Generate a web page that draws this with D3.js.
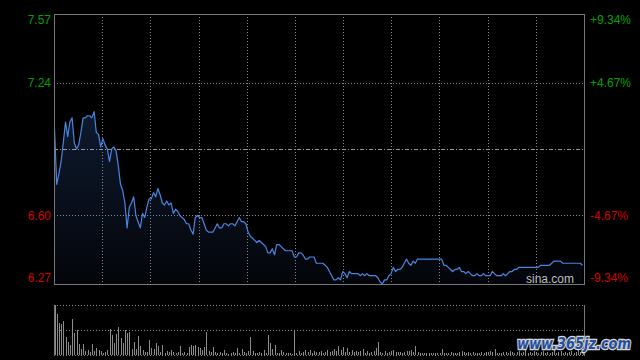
<!DOCTYPE html>
<html>
<head>
<meta charset="utf-8">
<script src="https://cdn.jsdelivr.net/npm/d3@7"></script>
<style>
  html, body { margin: 0; padding: 0; background: #000; }
  svg { display: block; }
</style>
</head>
<body>
<svg id="chart" width="640" height="360"></svg>
<script>
// ---- data ----
const prevClose = 6.92;
const priceTicks = [7.57, 7.24, 6.60, 6.27];
const pctTicks = ["+9.34%", "+4.67%", "-4.67%", "-9.34%"];
const prices = [
7.02,6.75,6.80,6.86,6.95,7.05,6.98,7.05,7.07,6.95,
6.92,6.94,7.00,7.07,7.07,7.08,7.08,7.07,7.10,7.00,
6.99,6.93,6.97,6.94,6.92,6.86,6.92,6.93,6.91,6.84,
6.75,6.72,6.66,6.54,6.64,6.66,6.69,6.60,6.57,6.54,
6.61,6.59,6.64,6.68,6.68,6.71,6.69,6.73,6.70,6.66,
6.65,6.67,6.65,6.66,6.61,6.63,6.62,6.60,6.59,6.58,
6.56,6.56,6.53,6.51,6.59,6.60,6.59,6.59,6.56,6.53,
6.52,6.52,6.52,6.54,6.56,6.54,6.54,6.56,6.56,6.55,
6.56,6.56,6.55,6.57,6.59,6.57,6.57,6.56,6.52,6.50,
6.49,6.48,6.47,6.48,6.47,6.46,6.45,6.42,6.42,6.44,
6.41,6.46,6.46,6.45,6.44,6.43,6.43,6.43,6.43,6.40,
6.40,6.42,6.42,6.41,6.39,6.39,6.40,6.40,6.40,6.37,
6.37,6.37,6.37,6.36,6.35,6.33,6.31,6.29,6.29,6.30,
6.29,6.33,6.32,6.30,6.33,6.32,6.32,6.32,6.32,6.31,
6.32,6.31,6.32,6.31,6.31,6.31,6.31,6.30,6.28,6.27,
6.29,6.29,6.31,6.32,6.35,6.33,6.34,6.34,6.35,6.37,
6.39,6.37,6.36,6.38,6.37,6.39,6.39,6.39,6.39,6.39,
6.39,6.39,6.39,6.39,6.39,6.39,6.39,6.36,6.36,6.35,
6.34,6.33,6.34,6.34,6.35,6.33,6.33,6.32,6.33,6.32,
6.31,6.31,6.32,6.31,6.31,6.32,6.31,6.31,6.31,6.33,
6.32,6.31,6.31,6.31,6.32,6.31,6.32,6.33,6.33,6.34,
6.34,6.35,6.35,6.35,6.35,6.35,6.35,6.35,6.35,6.35,
6.35,6.36,6.36,6.36,6.36,6.36,6.37,6.38,6.38,6.38,
6.38,6.37,6.37,6.37,6.37,6.37,6.37,6.37,6.37,6.37,
6.36
];
const volumes = [
50,41,32,31,34,18,13,10,36,22,
25,11,6,11,4,5,3,11,4,7,
5,4,2,3,5,26,20,12,21,28,
17,12,25,22,23,6,13,6,19,9,
5,3,3,15,7,6,12,9,3,10,
2,4,3,5,3,2,3,9,2,3,
2,8,10,9,10,8,7,5,8,23,
4,3,8,3,2,3,2,5,2,1,
2,3,2,7,2,6,3,2,4,18,
4,2,2,3,2,5,2,20,12,6,
10,2,2,5,3,2,2,2,1,25,
2,4,2,3,5,3,5,2,4,3,
3,4,2,3,5,3,4,6,4,9,
5,8,3,7,3,5,3,4,3,4,
6,2,4,2,3,4,7,13,3,2,
4,2,3,4,5,3,3,3,2,3,
4,4,5,3,9,3,2,2,2,2,
2,2,2,2,2,2,6,2,2,2,
3,2,2,2,3,4,3,2,3,2,
3,2,2,2,3,2,3,3,4,3,
6,2,2,2,3,3,2,4,3,2,
3,4,2,3,5,2,3,2,4,3,
2,3,4,2,3,2,3,5,2,3,
4,2,3,2,3,4,2,3,5,3,
4
];
const volMax = 50;

// ---- layout ----
const L = 54, R = 584, T = 14, B = 284;
const VT = 305, VB = 355;
const gridCols = 11;

const svg = d3.select("#chart");
const x = d3.scaleLinear().domain([0, 240]).range([L + 0.5, R - 1.5]);
const y = d3.scaleLinear().domain([6.27, 7.57]).range([B, T]);
const yv = d3.scaleLinear().domain([0, volMax]).range([VB, VT]);
const xg = d3.scaleLinear().domain([0, gridCols]).range([L, R]);

// gradient for area
const defs = svg.append("defs");
const grad = defs.append("linearGradient").attr("id", "fillGrad")
  .attr("gradientUnits", "userSpaceOnUse")
  .attr("x1", 0).attr("y1", T + 90).attr("x2", 0).attr("y2", B);
grad.append("stop").attr("offset", 0).attr("stop-color", "#0f1b30");
grad.append("stop").attr("offset", 1).attr("stop-color", "#03050a");

// area
svg.append("path")
  .datum(prices)
  .attr("fill", "url(#fillGrad)")
  .attr("d", d3.area().x((d, i) => x(i)).y0(B).y1(d => y(d)));

// grid
const gridColor = "#8a8a8a";
const g = svg.append("g");
d3.range(1, gridCols).forEach(k => {
  g.append("line")
    .attr("x1", Math.round(xg(k)) + 0.5).attr("x2", Math.round(xg(k)) + 0.5)
    .attr("y1", T).attr("y2", B)
    .attr("stroke", gridColor).attr("stroke-dasharray", "1,2");
});
[priceTicks[1], priceTicks[2]].forEach(v => {
  g.append("line")
    .attr("x1", L).attr("x2", R)
    .attr("y1", Math.round(y(v)) + 0.5).attr("y2", Math.round(y(v)) + 0.5)
    .attr("stroke", gridColor).attr("stroke-dasharray", "1,2");
});
g.append("line")
  .attr("x1", L).attr("x2", R)
  .attr("y1", Math.round(y(prevClose)) + 0.5).attr("y2", Math.round(y(prevClose)) + 0.5)
  .attr("stroke", "#9a9a9a").attr("stroke-dasharray", "4,2,1,2");

// price line
svg.append("path")
  .datum(prices)
  .attr("fill", "none")
  .attr("stroke", "#4a86e0")
  .attr("stroke-width", 1.2)
  .attr("stroke-linejoin", "round")
  .attr("d", d3.line().x((d, i) => x(i)).y(d => y(d)));

// price frame
svg.append("rect")
  .attr("x", L + 0.5).attr("y", T + 0.5)
  .attr("width", R - L).attr("height", B - T)
  .attr("fill", "none").attr("stroke", "#777");

// sina watermark
svg.append("text")
  .attr("x", 574).attr("y", 283)
  .attr("text-anchor", "end")
  .attr("font-family", "Liberation Sans, Arial, sans-serif")
  .attr("font-size", 12)
  .attr("fill", "#bdbdbd")
  .text("sina.com");

// axis labels
const labelY = v => Math.max(T + 6, Math.min(B - 6, y(v)));
const colorOf = v => v > prevClose ? "#00a000" : "#d40000";
svg.append("g").selectAll("text").data(priceTicks).join("text")
  .attr("x", 51).attr("y", d => labelY(d))
  .attr("dy", "0.36em")
  .attr("text-anchor", "end")
  .attr("font-family", "Liberation Sans, Arial, sans-serif")
  .attr("font-size", 12)
  .attr("fill", colorOf)
  .text(d => d.toFixed(2));
svg.append("g").selectAll("text").data(pctTicks).join("text")
  .attr("x", 590).attr("y", (d, i) => labelY(priceTicks[i]))
  .attr("dy", "0.36em")
  .attr("text-anchor", "start")
  .attr("font-family", "Liberation Sans, Arial, sans-serif")
  .attr("font-size", 12)
  .attr("fill", (d, i) => colorOf(priceTicks[i]))
  .text(d => d);

// volume panel
const vg = svg.append("g");
[volMax, volMax / 2, 0].forEach(v => {
  vg.append("line")
    .attr("x1", L).attr("x2", R)
    .attr("y1", Math.round(yv(v)) + 0.5).attr("y2", Math.round(yv(v)) + 0.5)
    .attr("stroke", gridColor).attr("stroke-dasharray", "1,2");
});
vg.selectAll("rect.bar").data(volumes).join("rect")
  .attr("class", "bar")
  .attr("x", (d, i) => Math.round(x(i)))
  .attr("width", 1)
  .attr("y", d => yv(d))
  .attr("height", d => VB - yv(d))
  .attr("fill", "#8c8c8c");
[L, R].forEach(xx => {
  vg.append("line")
    .attr("x1", xx + 0.5).attr("x2", xx + 0.5)
    .attr("y1", VT).attr("y2", VB + 1)
    .attr("stroke", "#777");
});

// site watermark
svg.append("text")
  .attr("x", 517).attr("y", 349)
  .attr("textLength", 114)
  .attr("lengthAdjust", "spacingAndGlyphs")
  .attr("font-family", "DejaVu Sans, sans-serif")
  .attr("font-weight", "bold")
  .attr("font-style", "italic")
  .attr("font-size", 16)
  .attr("fill", "#1f4f9c")
  .attr("stroke", "#d8d8d8")
  .attr("stroke-width", 2.5)
  .attr("paint-order", "stroke")
  .text("www.365jz.com");
</script>
</body>
</html>
